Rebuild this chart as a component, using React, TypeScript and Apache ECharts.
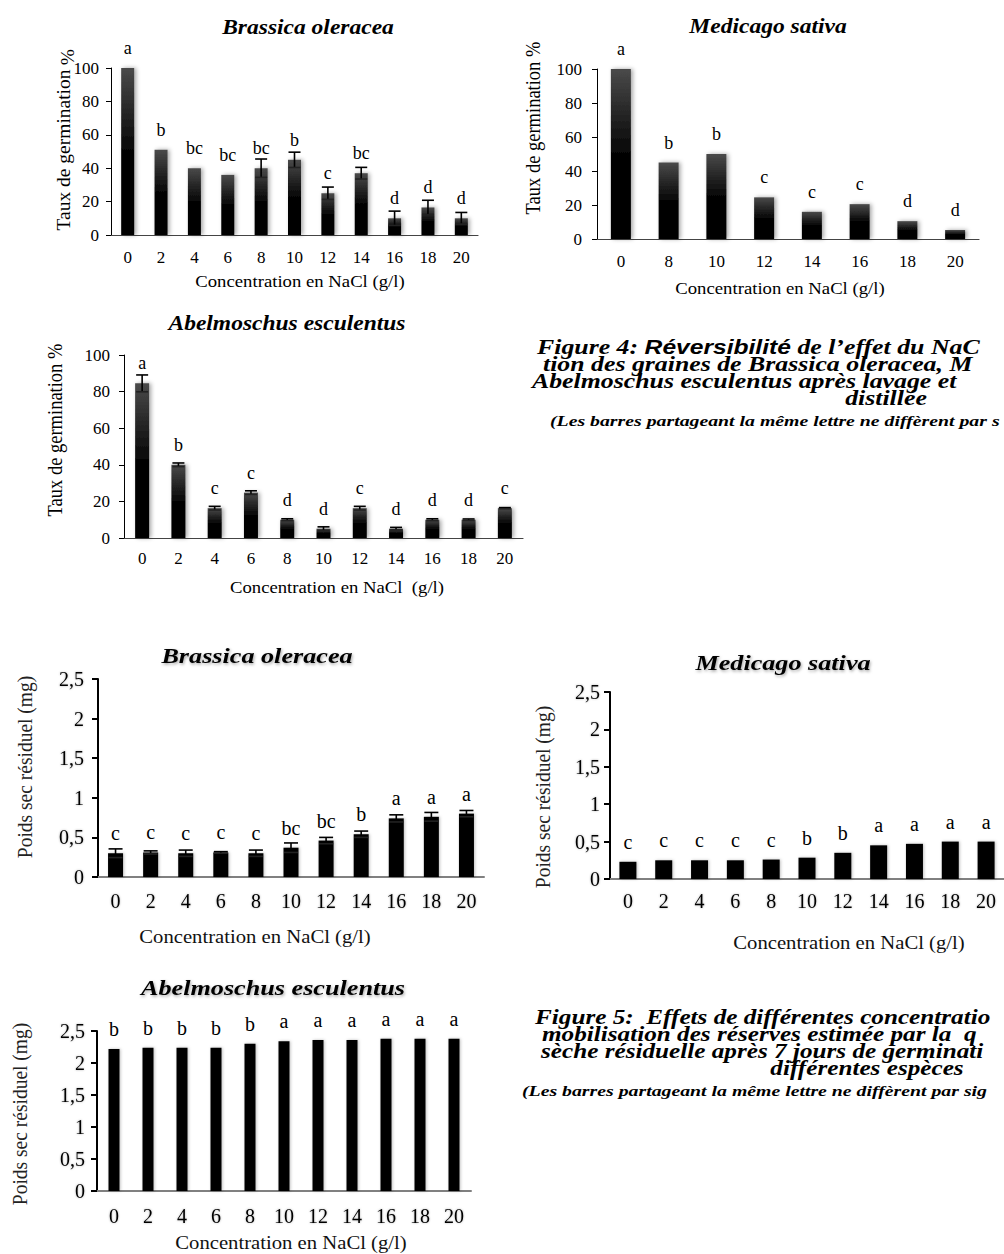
import React, { useEffect, useRef } from 'react';
import * as echarts from 'echarts';

// ---------- Data ----------
const concAll = ['0', '2', '4', '6', '8', '10', '12', '14', '16', '18', '20'];
const concMedicagoGerm = ['0', '8', '10', '12', '14', '16', '18', '20'];

// Figure 4 – germination rate (%)
const germBrassica = [100, 51, 40, 36, 40, 45, 25, 37, 10, 16.5, 10];
const germBrassicaErr = [0, 0, 0, 0, 5.5, 4.6, 3.7, 3.5, 4.3, 4.3, 3.5];
const germBrassicaLetters = ['a', 'b', 'bc', 'bc', 'bc', 'b', 'c', 'bc', 'd', 'd', 'd'];

const germMedicago = [100, 45, 50, 24.5, 16, 20.5, 10.5, 5.3];
const germMedicagoLetters = ['a', 'b', 'b', 'c', 'c', 'c', 'd', 'd'];

const germAbel = [84.5, 40, 16.3, 24.8, 10, 5.1, 16.3, 5.1, 10, 10, 16.3];
const germAbelErr = [4.6, 1, 1, 1, 0.5, 1, 1, 0.7, 0.5, 0.4, 0.3];
const germAbelLetters = ['a', 'b', 'c', 'c', 'd', 'd', 'c', 'd', 'd', 'd', 'c'];

// Figure 5 – residual dry weight (mg)
const dryBrassica = [0.3, 0.31, 0.3, 0.31, 0.3, 0.37, 0.46, 0.54, 0.74, 0.76, 0.8];
const dryBrassicaErr = [0.055, 0.02, 0.04, 0.01, 0.04, 0.06, 0.04, 0.04, 0.045, 0.055, 0.04];
const dryBrassicaLetters = ['c', 'c', 'c', 'c', 'c', 'bc', 'bc', 'b', 'a', 'a', 'a'];

const dryMedicago = [0.23, 0.25, 0.25, 0.25, 0.26, 0.285, 0.35, 0.45, 0.47, 0.5, 0.5];
const dryMedicagoLetters = ['c', 'c', 'c', 'c', 'c', 'b', 'b', 'a', 'a', 'a', 'a'];

const dryAbel = [2.22, 2.24, 2.24, 2.24, 2.3, 2.34, 2.36, 2.36, 2.38, 2.38, 2.38];
const dryAbelLetters = ['b', 'b', 'b', 'b', 'b', 'a', 'a', 'a', 'a', 'a', 'a'];

const germTicks = { min: 0, max: 100, interval: 20 };
const dryTicks = { min: 0, max: 2.5, interval: 0.5 };

// ---------- Layout ----------
const SERIF = "'Liberation Serif', 'Times New Roman', serif";
const SANS = "'Liberation Sans', Arial, sans-serif";

type Panel = {
  left: number; top: number; width: number; height: number;
  cats: string[]; vals: number[]; errs: number[] | null; letters: string[];
  fig: 4 | 5; bw: number; cap: number; xm: number; ym: number;
};

const PANELS: Panel[] = [
  { left: 111, top: 68, width: 367, height: 167, cats: concAll, vals: germBrassica, errs: germBrassicaErr, letters: germBrassicaLetters, fig: 4, bw: 13, cap: 12, xm: 14, ym: 12 },
  { left: 597, top: 69, width: 382, height: 170, cats: concMedicagoGerm, vals: germMedicago, errs: null, letters: germMedicagoLetters, fig: 4, bw: 20, cap: 12, xm: 14, ym: 15 },
  { left: 124, top: 355, width: 399, height: 183, cats: concAll, vals: germAbel, errs: germAbelErr, letters: germAbelLetters, fig: 4, bw: 14, cap: 12, xm: 12, ym: 14 },
  { left: 98, top: 679, width: 386, height: 198, cats: concAll, vals: dryBrassica, errs: dryBrassicaErr, letters: dryBrassicaLetters, fig: 5, bw: 15, cap: 14, xm: 14, ym: 14 },
  { left: 610, top: 692, width: 404, height: 187, cats: concAll, vals: dryMedicago, errs: null, letters: dryMedicagoLetters, fig: 5, bw: 17, cap: 14, xm: 12, ym: 10 },
  { left: 97, top: 1031, width: 374, height: 160, cats: concAll, vals: dryAbel, errs: null, letters: dryAbelLetters, fig: 5, bw: 11, cap: 12, xm: 15, ym: 12 },
];

type TOpt = { rot?: number; sx?: number; sy?: number; ff?: string; bold?: boolean; italic?: boolean; color?: string; align?: string; shadow?: boolean };

function T(x: number, y: number, text: string, size: number, o: TOpt = {}) {
  return {
    type: 'text',
    x, y,
    rotation: o.rot || 0,
    scaleX: o.sx || 1,
    scaleY: o.sy || 1,
    silent: true,
    style: {
      text,
      fontFamily: o.ff || SERIF,
      fontSize: size,
      fontWeight: o.bold ? 'bold' : 'normal',
      fontStyle: o.italic ? 'italic' : 'normal',
      fill: o.color || '#000',
      textAlign: o.align || 'center',
      textVerticalAlign: 'middle',
      ...(o.shadow ? { textShadowColor: 'rgba(0,0,0,0.35)', textShadowBlur: 3, textShadowOffsetX: 1, textShadowOffsetY: 1.5 } : {}),
    },
  };
}

const ROT = Math.PI / 2;

function buildOption() {
  const grids: any[] = [];
  const xAxes: any[] = [];
  const yAxes: any[] = [];
  const series: any[] = [];

  PANELS.forEach((p, i) => {
    const f4 = p.fig === 4;
    grids.push({ left: p.left, top: p.top, width: p.width, height: p.height });
    xAxes.push({
      gridIndex: i,
      type: 'category',
      data: p.cats,
      axisTick: { show: false },
      axisLine: { lineStyle: { color: f4 ? '#444' : '#808080', width: f4 ? 1.2 : 2 } },
      axisLabel: {
        fontFamily: SERIF, fontSize: f4 ? 17 : 20, color: '#000', margin: p.xm,
        ...(f4 ? {} : { textShadowColor: 'rgba(0,0,0,0.3)', textShadowBlur: 2 }),
      },
    });
    const ticks = f4 ? germTicks : dryTicks;
    yAxes.push({
      gridIndex: i,
      type: 'value',
      min: ticks.min, max: ticks.max, interval: ticks.interval,
      splitLine: { show: false },
      axisLine: { show: true, lineStyle: { color: '#000', width: f4 ? 1 : 2 } },
      axisTick: { show: true, length: f4 ? 5 : 6, lineStyle: { color: '#000', width: f4 ? 1 : 2 } },
      axisLabel: {
        fontFamily: SERIF, fontSize: f4 ? 17 : 20, color: '#000', margin: p.ym,
        formatter: (v: number) => String(v).replace('.', ','),
        ...(f4 ? {} : { textShadowColor: 'rgba(0,0,0,0.3)', textShadowBlur: 2 }),
      },
    });
    series.push({
      type: 'bar',
      xAxisIndex: i, yAxisIndex: i,
      data: p.vals,
      barWidth: p.bw,
      itemStyle: f4
        ? {
            color: new echarts.graphic.LinearGradient(0, 0, 0, 1, [
              { offset: 0, color: '#4a4a4a' },
              { offset: 0.5, color: '#050505' },
              { offset: 1, color: '#000' },
            ]),
            shadowColor: 'rgba(0,0,0,0.35)', shadowBlur: 4, shadowOffsetX: 2,
          }
        : { color: '#000', shadowColor: 'rgba(0,0,0,0.25)', shadowBlur: 3, shadowOffsetX: 1 },
      label: {
        show: true,
        position: 'top',
        distance: f4 ? 11 : 10,
        formatter: (prm: any) => p.letters[prm.dataIndex],
        fontFamily: SERIF,
        fontSize: f4 ? 18 : 20,
        color: '#000',
      },
    });
    if (p.errs) {
      const errs = p.errs;
      const cap = p.cap;
      series.push({
        type: 'custom',
        xAxisIndex: i, yAxisIndex: i,
        z: 10,
        encode: { x: 0, y: 1 },
        data: p.vals.map((v, k) => [k, v, errs[k]]),
        renderItem: (params: any, api: any) => {
          const k = api.value(0);
          const v = api.value(1);
          const e = api.value(2);
          if (!e) return null;
          const hi = api.coord([k, v + e]);
          const lo = api.coord([k, v - e]);
          const hw = cap / 2;
          const st = { stroke: '#000', lineWidth: 1.6 };
          return {
            type: 'group',
            children: [
              { type: 'line', shape: { x1: hi[0], y1: hi[1], x2: lo[0], y2: lo[1] }, style: st },
              { type: 'line', shape: { x1: hi[0] - hw, y1: hi[1], x2: hi[0] + hw, y2: hi[1] }, style: st },
              { type: 'line', shape: { x1: lo[0] - hw, y1: lo[1], x2: lo[0] + hw, y2: lo[1] }, style: { stroke: '#222', lineWidth: 1.6 } },
            ],
          };
        },
      });
    }
  });

  const xName = 'Concentration en NaCl (g/l)';
  const germName = 'Taux de germination %';
  const dryName = 'Poids sec résiduel (mg)';
  const capFont = 21;
  const capSX = 1.23;
  const cap5SX = 1.2;
  const noteFont = 15;
  const noteSX = 1.32;
  const richCap = {
    a: { fontFamily: SERIF, fontSize: capFont, fontWeight: 'bold', fontStyle: 'italic', fill: '#000' },
    b: { fontFamily: SANS, fontSize: capFont - 1, fontWeight: 'bold', fontStyle: 'italic', fill: '#000' },
  };

  const graphic: any[] = [
    // Figure 4 titles
    T(308, 27, 'Brassica oleracea', 21, { bold: true, italic: true, sx: 1.12 }),
    T(768, 26, 'Medicago sativa', 21, { bold: true, italic: true, sx: 1.12 }),
    T(287, 323, 'Abelmoschus esculentus', 21, { bold: true, italic: true, sx: 1.12 }),
    // Figure 4 axis names
    T(63, 150, 'Taux de germination', 19.5, { rot: ROT }),
    T(67, 57, '%', 19.5, { rot: ROT }),
    T(533, 128, germName, 18.5, { rot: ROT, sy: 1.1 }),
    T(55, 430, germName, 18.5, { rot: ROT, sy: 1.1 }),
    T(300, 281, xName, 16, { sx: 1.17 }),
    T(780, 288, xName, 16, { sx: 1.17 }),
    T(337, 587, 'Concentration en NaCl  (g/l)', 16, { sx: 1.17 }),
    // Figure 5 titles
    T(257, 655, 'Brassica oleracea', 22, { bold: true, italic: true, sx: 1.19, shadow: true }),
    T(783, 662, 'Medicago sativa', 22, { bold: true, italic: true, sx: 1.19, shadow: true }),
    T(273, 987, 'Abelmoschus esculentus', 22, { bold: true, italic: true, sx: 1.19, shadow: true }),
    // Figure 5 axis names
    T(25, 767, dryName, 19.5, { rot: ROT, sy: 1.1, color: '#222' }),
    T(543, 797, dryName, 19.5, { rot: ROT, sy: 1.1, color: '#222' }),
    T(20, 1114, dryName, 19.5, { rot: ROT, sy: 1.1, color: '#222' }),
    T(255, 937, xName, 18, { sx: 1.15, color: '#111' }),
    T(849, 943, xName, 18, { sx: 1.15, color: '#111' }),
    T(291, 1243, xName, 18, { sx: 1.15, color: '#111' }),
    // Figure 4 caption
    {
      type: 'text', x: 537, y: 347, scaleX: capSX, silent: true,
      style: {
        text: '{a|Figure 4: }{b|Réversibilité}{a| de l’effet du NaC}',
        rich: richCap, textAlign: 'left', textVerticalAlign: 'middle',
      },
    },
    T(543, 364, 'tion des graines de Brassica oleracea, M', capFont, { bold: true, italic: true, sx: capSX, align: 'left' }),
    T(532, 381, 'Abelmoschus esculentus après lavage et', capFont, { bold: true, italic: true, sx: capSX, align: 'left' }),
    T(886, 398, 'distillée', capFont, { bold: true, italic: true, sx: capSX }),
    T(550, 421, '(Les barres partageant la même lettre ne diffèrent par s', noteFont, { bold: true, italic: true, sx: noteSX, align: 'left' }),
    // Figure 5 caption
    T(535, 1017, 'Figure 5:  Effets de différentes concentratio', capFont, { bold: true, italic: true, sx: cap5SX, align: 'left' }),
    T(542, 1034, 'mobilisation des réserves estimée par la  q', capFont, { bold: true, italic: true, sx: cap5SX, align: 'left' }),
    T(541, 1051, 'sèche résiduelle après 7 jours de germinati', capFont, { bold: true, italic: true, sx: cap5SX, align: 'left' }),
    T(867, 1068, 'différentes espèces', capFont, { bold: true, italic: true, sx: cap5SX }),
    T(522, 1091, '(Les barres partageant la même lettre ne diffèrent par sig', noteFont, { bold: true, italic: true, sx: noteSX, align: 'left' }),
  ];

  return {
    animation: false,
    backgroundColor: '#fff',
    grid: grids,
    xAxis: xAxes,
    yAxis: yAxes,
    series,
    graphic: { elements: graphic },
  };
}

export default function App() {
  const ref = useRef<HTMLDivElement>(null);
  useEffect(() => {
    if (!ref.current) return;
    const chart = echarts.init(ref.current, null, { renderer: 'svg' });
    chart.setOption(buildOption());
    return () => chart.dispose();
  }, []);
  return (
    <div
      ref={ref}
      style={{ position: 'absolute', left: 0, top: 0, width: 1004, height: 1254, background: '#fff' }}
    />
  );
}
